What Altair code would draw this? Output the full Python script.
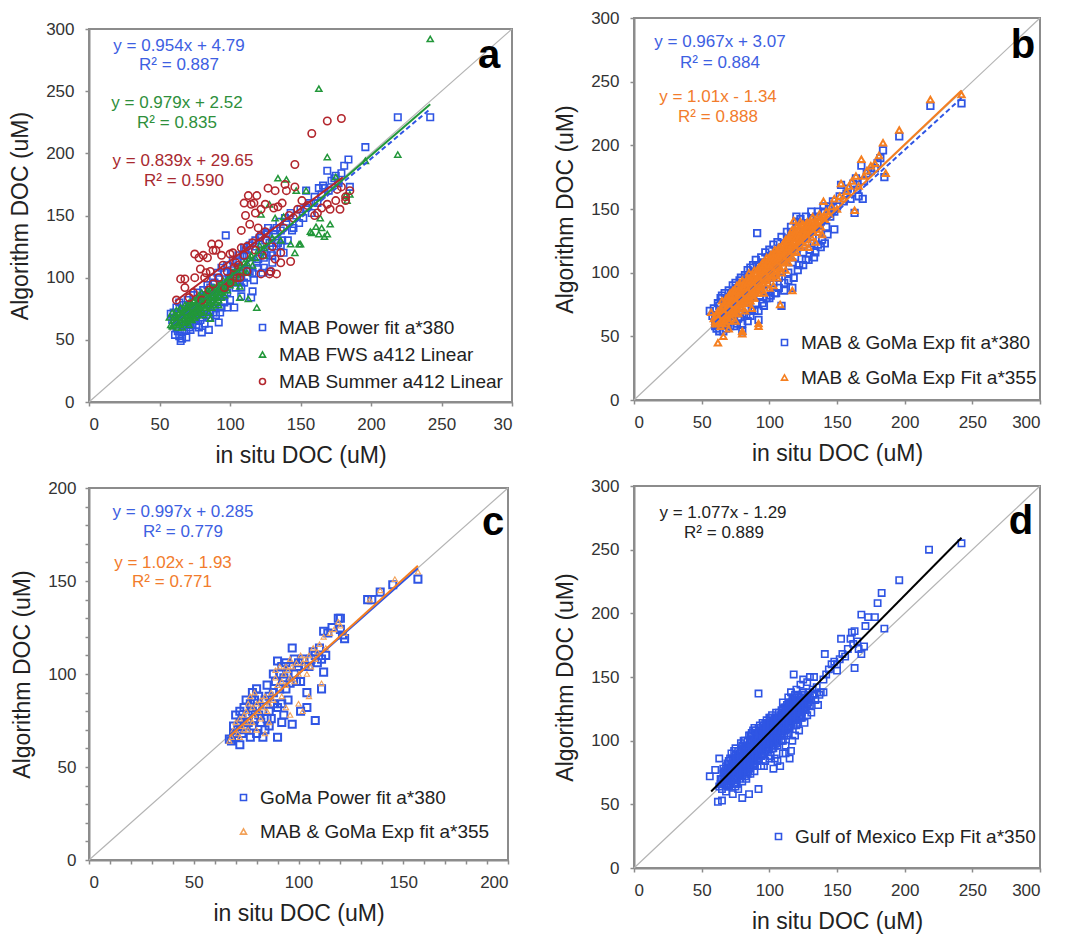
import altair as alt
import pandas as pd

FONT = "Liberation Sans"
AX = "#8c8c8c"
BLUE = "#2f55e4"
GREEN = "#22973a"
RED = "#b3262d"
ORANGE = "#f57f20"
ORANGE_LIGHT = "#f2a25a"
GRAY = "#b4b4b4"

# ---------------- Panel a ----------------
a_blue = [(58,71),(59,66),(60,68),(61,54),(62,60),(63,57),(64,53),(65,49),(66,51),(64,80),(66,75),(67,73),(68,70),(68,62),(69,52),(70,65),(71,60),(72,58),(73,62),(73,76),(75,70),(76,66),(77,72),(78,60),(79,82),(80,56),(80,68),(81,74),(82,63),(83,86),(84,79),(85,58),(85,68),(86,92),(86,74),(87,84),(88,72),(89,96),(90,70),(90,88),(91,80),(92,64),(92,100),(93,86),(94,76),(95,92),(96,80),(96,104),(97,95),(98,76),(98,88),(99,100),(100,98),(101,106),(102,104),(103,76),(104,92),(105,114),(106,108),(107,98),(108,85),(108,100),(109,118),(110,112),(110,96),(111,122),(112,118),(113,106),(114,105),(115,84),(116,89),(116,128),(117,98),(118,125),(119,112),(120,115),(121,132),(122,122),(123,104),(124,108),(125,130),(126,118),(127,140),(128,105),(128,128),(129,120),(130,112),(131,138),(132,135),(133,125),(134,128),(135,145),(136,138),(137,130),(138,120),(139,148),(140,145),(141,130),(143,152),(144,138),(145,140),(147,150),(149,144),(150,155),(152,148),(154,156),(154,170),(156,160),(158,152),(160,165),(162,160),(163,172),(165,167),(166,174),(167,172),(169,186),(170,170),(172,178),(174,180),(175,182),(177,176),(179,184),(181,190),(184,195),(185,173),(196,205),(219,229),(242,229),(97,134)]
a_blue_core = [(60,72),(62,76),(63,70),(66,56),(67,78),(69,58),(70,82),(72,62),(74,86),(76,62),(77,88),(79,66),(81,90),(83,70),(84,94),(86,68),(88,100),(89,76),(91,104),(93,72),(94,108),(96,86),(98,110),(100,82),(102,114),(104,96),(106,118),(108,92),(110,124),(112,100),(114,126),(116,104),(118,130),(120,108),(122,134),(124,116),(126,136),(130,118),(133,140),(136,126)]
a_green = [(57,68),(58,62),(59,61),(59,72),(60,66),(61,70),(62,64),(62,74),(63,68),(63,60),(64,72),(65,66),(65,76),(66,60),(66,70),(67,74),(68,64),(68,78),(69,70),(70,67),(70,74),(71,62),(71,80),(72,70),(72,76),(73,66),(74,72),(74,82),(75,78),(75,68),(76,74),(77,80),(77,70),(78,76),(78,86),(79,72),(80,78),(80,84),(81,70),(82,82),(82,76),(83,88),(84,78),(85,84),(85,72),(86,80),(86,90),(87,76),(88,86),(88,82),(89,92),(90,80),(90,88),(91,84),(92,94),(92,78),(93,88),(94,84),(95,92),(95,98),(96,86),(97,96),(98,90),(99,100),(100,94),(101,98),(102,104),(103,96),(104,102),(105,108),(106,100),(107,84),(108,106),(110,112),(112,104),(113,83),(114,116),(116,110),(119,76),(120,122),(122,151),(124,118),(126,126),(128,159),(130,132),(132,148),(134,180),(136,130),(138,149),(140,179),(143,127),(146,120),(147,170),(149,127),(150,127),(154,170),(157,137),(158,136),(161,141),(163,135),(164,148),(165,140),(167,133),(169,135),(169,197),(171,143),(175,181),(182,166),(183,162),(185,167),(196,194),(219,199),(163,252),(242,292),(86,67),(70,64),(107,93)]
a_green_core = [(60,62),(61,64),(62,68),(63,64),(64,62),(64,68),(65,70),(66,64),(66,72),(67,68),(68,70),(68,74),(69,66),(69,76),(70,70),(70,78),(71,68),(71,74),(72,66),(72,72),(72,80),(73,72),(73,78),(74,68),(74,76),(75,74),(75,82),(76,70),(76,78),(77,74),(77,84),(78,72),(78,80),(79,76),(79,82),(80,74),(80,88),(81,78),(81,84),(82,80),(82,86),(83,76),(83,84),(84,82),(84,90),(85,78),(85,88),(86,84),(87,82),(87,92),(88,78),(88,90),(89,84),(90,92),(90,84),(91,88),(92,82),(92,90),(93,92),(94,88),(94,96),(96,90),(97,92),(98,96),(100,98),(102,98),(104,106),(106,104),(108,110),(110,104),(112,112),(115,118),(118,116),(121,126),(124,124)]
a_red = [(62,82),(65,99),(68,92),(68,99),(71,84),(74,88),(75,100),(75,119),(78,116),(79,107),(80,82),(81,118),(82,100),(83,104),(84,116),(85,90),(86,105),(87,127),(88,95),(88,122),(90,122),(92,127),(92,100),(94,118),(95,110),(96,92),(98,105),(100,119),(100,96),(102,120),(103,108),(104,112),(105,100),(106,110),(107,100),(108,138),(108,124),(110,160),(110,118),(111,150),(112,105),(112,125),(113,166),(114,143),(115,159),(116,128),(117,160),(118,122),(118,152),(119,166),(120,140),(121,133),(122,103),(122,155),(123,118),(125,159),(125,137),(126,130),(127,172),(128,103),(129,105),(130,125),(131,156),(132,115),(132,170),(133,103),(134,157),(136,112),(136,120),(137,160),(138,140),(139,175),(140,170),(142,150),(143,113),(145,148),(146,173),(146,191),(148,155),(151,162),(155,158),(158,216),(160,150),(162,152),(165,156),(169,159),(169,226),(171,155),(175,162),(176,171),(179,173),(179,228),(182,162),(182,165),(185,170),(178,155)]
a_names = ["MAB Power fit a*380", "MAB FWS a412 Linear", "MAB Summer a412 Linear"]
a_slopes = [0.954, 0.979, 0.839]
a_icpts = [4.79, 2.52, 29.65]
a_xrange = [(60, 242), (57, 242), (61, 180)]
a_eqs = ["y = 0.954x + 4.79", "R² = 0.887", "y = 0.979x + 2.52", "R² = 0.835", "y = 0.839x + 29.65", "R² = 0.590"]

# ---------------- Panel b ----------------
b_blue = [(56,70),(58,66),(60,64),(61,56),(62,58),(63,74),(64,80),(65,62),(66,54),(67,68),(68,72),(69,60),(70,78),(71,66),(72,84),(73,70),(74,58),(75,76),(76,88),(77,64),(78,94),(78,72),(79,82),(80,54),(80,68),(81,90),(82,76),(83,86),(84,62),(85,96),(85,80),(86,104),(87,70),(87,90),(88,84),(89,100),(90,76),(90,94),(91,131),(91,88),(92,63),(92,106),(93,82),(94,98),(95,90),(96,108),(96,74),(97,102),(98,86),(99,112),(100,96),(100,80),(101,104),(102,114),(103,92),(104,108),(105,84),(105,100),(106,116),(107,96),(108,110),(109,74),(110,104),(110,120),(111,92),(112,114),(113,126),(114,100),(115,118),(116,130),(117,88),(117,108),(118,124),(119,112),(120,144),(120,132),(121,120),(122,106),(123,128),(124,138),(125,116),(126,130),(127,110),(128,124),(129,136),(130,118),(131,142),(132,128),(133,112),(134,136),(135,144),(136,122),(137,132),(138,140),(139,126),(140,148),(141,123),(142,136),(144,150),(145,144),(147,156),(148,148),(150,152),(152,160),(153,169),(155,156),(157,162),(158,166),(160,158),(162,170),(163,147),(164,174),(165,165),(166,160),(168,184),(169,158),(170,172),(172,178),(175,180),(178,182),(180,186),(182,190),(184,196),(185,175),(196,207),(219,231),(242,233)]
b_blue_edge = [(59,72),(60,58),(62,76),(63,54),(65,82),(66,58),(67,84),(68,56),(70,86),(71,58),(73,90),(74,62),(75,92),(76,60),(79,96),(80,60),(82,98),(83,66),(84,102),(86,66),(88,106),(89,70),(90,110),(92,70),(94,112),(95,76),(97,116),(98,80),(100,118),(101,82),(103,122),(104,84),(106,124),(107,88),(109,128),(111,86),(113,132),(114,94),(116,136),(118,96),(120,140),(121,102),(123,142),(125,106),(127,144),(129,110),(131,148),(134,116),(136,148),(138,120),(140,152),(143,130),(145,152),(148,134)]
b_orange = [(57,69),(59,64),(60,62),(61,60),(62,45),(63,66),(64,72),(64,58),(65,78),(66,64),(66,50),(67,70),(68,60),(68,76),(69,66),(70,72),(70,56),(71,80),(72,64),(72,74),(73,68),(74,78),(74,86),(75,62),(75,72),(76,82),(77,76),(77,68),(78,88),(78,80),(79,72),(80,84),(80,52),(80,76),(81,92),(82,80),(82,70),(83,88),(84,76),(84,96),(85,84),(86,90),(86,78),(87,98),(87,72),(88,86),(88,94),(89,80),(89,102),(90,90),(90,84),(91,96),(92,58),(92,88),(92,104),(93,94),(94,86),(94,100),(95,108),(95,92),(96,98),(96,84),(97,104),(98,94),(98,112),(99,100),(100,106),(100,88),(101,96),(101,114),(102,102),(103,110),(103,90),(104,98),(104,118),(105,106),(106,112),(106,96),(107,104),(107,120),(108,110),(108,75),(109,100),(110,116),(110,108),(111,124),(112,112),(112,102),(113,120),(114,128),(114,108),(115,116),(116,124),(117,112),(117,134),(118,141),(118,120),(119,128),(120,116),(120,136),(121,124),(122,130),(123,120),(123,140),(124,128),(125,134),(126,122),(127,138),(128,130),(129,120),(130,136),(131,128),(132,144),(133,134),(134,124),(135,140),(136,132),(137,146),(138,136),(139,130),(140,156),(141,142),(142,148),(144,146),(146,152),(148,158),(150,150),(152,160),(153,170),(155,158),(157,164),(159,168),(161,172),(163,149),(164,176),(166,168),(168,189),(170,176),(172,180),(175,184),(178,186),(181,192),(184,202),(186,178),(196,212),(219,236),(242,240),(117,86),(92,60),(80,54)]
b_orange_core = [(60,60),(61,66),(62,62),(62,70),(63,60),(63,70),(64,64),(64,68),(65,60),(65,70),(66,68),(66,74),(67,62),(67,66),(67,76),(68,64),(68,70),(68,80),(69,70),(69,74),(69,78),(70,62),(70,68),(70,76),(70,82),(71,70),(71,74),(71,84),(72,68),(72,78),(72,82),(73,74),(73,80),(73,86),(74,70),(74,74),(74,82),(75,68),(75,78),(75,86),(76,72),(76,78),(76,90),(77,72),(77,80),(77,86),(78,76),(78,84),(78,92),(79,76),(79,80),(79,86),(80,72),(80,80),(80,88),(80,94),(81,76),(81,84),(81,88),(82,78),(82,84),(82,92),(83,80),(83,84),(83,94),(84,80),(84,86),(84,92),(85,78),(85,88),(85,94),(85,100),(86,82),(86,86),(86,96),(87,84),(87,88),(87,94),(88,80),(88,90),(88,98),(89,86),(89,92),(89,96),(90,86),(90,94),(90,100),(91,90),(91,92),(91,102),(92,84),(92,92),(92,98),(93,90),(93,98),(93,104),(94,90),(94,96),(94,106),(95,96),(95,100),(95,104),(96,92),(96,102),(96,106),(97,96),(97,100),(97,108),(98,98),(98,104),(98,108),(99,96),(99,104),(99,108),(100,98),(100,102),(100,112),(101,100),(101,106),(101,110),(102,98),(102,108),(102,112),(103,104),(103,106),(103,114),(104,102),(104,106),(104,112),(105,102),(105,110),(105,116),(106,104),(106,108),(106,118),(107,108),(107,112),(107,116),(108,104),(108,114),(108,120),(109,108),(109,112),(109,118),(110,110),(110,112),(110,122),(111,110),(111,116),(111,120),(112,108),(112,116),(112,126),(113,112),(113,118),(113,124),(114,112),(114,120),(114,124),(115,112),(115,120),(115,128),(116,116),(116,120),(116,128),(117,118),(117,122),(117,128),(118,116),(118,124),(118,132),(119,120),(119,124),(119,134),(120,120),(120,128),(120,132),(121,122),(121,130),(121,134),(122,124),(122,128),(122,136),(123,124),(123,130),(124,124),(124,132),(124,138),(125,128),(125,138),(126,126),(126,134),(127,130),(127,134),(128,126),(128,134),(128,140),(129,130),(129,138),(130,132),(130,140),(131,134),(131,138),(132,132),(132,140),(133,138),(134,140),(135,134),(136,138),(137,140),(138,144),(140,144),(142,144)]
b_names = ["MAB & GoMa Exp fit a*380", "MAB & GoMa Exp Fit a*355"]
b_slopes = [0.967, 1.01]
b_icpts = [3.07, -1.34]
b_xrange = [(60, 242), (58, 242)]
b_eqs = ["y = 0.967x + 3.07", "R² = 0.884", "y = 1.01x - 1.34", "R² = 0.888"]

# ---------------- Panel c ----------------
c_blue = [(67,65),(68,64),(69,72),(69,68),(70,78),(70,66),(71,70),(72,62),(72,74),(72,80),(73,68),(73,76),(74,82),(74,72),(75,70),(75,86),(76,78),(76,74),(77,66),(77,84),(78,80),(78,72),(79,76),(79,86),(80,68),(80,82),(81,78),(81,88),(82,74),(83,66),(83,80),(84,86),(85,76),(85,94),(86,80),(86,88),(87,76),(88,84),(88,90),(88,100),(89,96),(90,107),(90,66),(90,82),(91,100),(91,92),(92,74),(92,84),(92,104),(93,98),(93,78),(94,92),(94,106),(95,100),(95,86),(96,104),(96,95),(97,73),(97,114),(98,100),(98,108),(99,96),(100,104),(100,106),(101,80),(101,96),(102,108),(103,104),(104,90),(104,82),(105,104),(106,108),(107,112),(108,75),(108,110),(109,106),(110,114),(111,92),(111,108),(112,101),(112,123),(113,110),(114,122),(116,125),(119,130),(120,130),(120,124),(121,121),(122,119),(133,140),(135,140),(139,144),(145,148),(157,151),(84,70),(86,72),(78,90),(80,92)]
c_orange = [(67,64),(68,66),(69,70),(70,74),(71,68),(72,76),(72,66),(73,72),(74,78),(74,70),(75,80),(75,74),(76,84),(76,70),(77,76),(77,88),(78,82),(78,74),(79,78),(79,90),(80,84),(80,70),(81,80),(82,86),(82,76),(83,82),(84,88),(85,80),(86,84),(87,90),(88,86),(89,98),(89,102),(90,94),(91,104),(92,96),(92,88),(93,100),(94,94),(94,104),(95,102),(96,98),(96,108),(97,104),(98,96),(99,106),(100,100),(101,110),(102,106),(103,108),(104,100),(105,88),(105,110),(106,104),(107,114),(108,108),(109,112),(110,116),(111,95),(112,120),(113,114),(115,122),(117,124),(119,128),(120,126),(122,122),(134,140),(139,145),(146,151),(157,155),(100,84),(102,80),(94,82),(96,78),(86,74),(84,68)]
c_names = ["GoMa Power fit a*380", "MAB & GoMa Exp fit a*355"]
c_slopes = [0.997, 1.02]
c_icpts = [0.285, -1.93]
c_xrange = [(67, 157), (67, 157)]
c_eqs = ["y = 0.997x + 0.285", "R² = 0.779", "y = 1.02x - 1.93", "R² = 0.771"]

# ---------------- Panel d ----------------
d_blue = [(56,72),(60,77),(62,52),(63,86),(64,70),(65,53),(65,62),(66,74),(67,66),(68,80),(68,60),(69,70),(70,84),(70,64),(71,76),(72,68),(72,90),(73,58),(73,80),(74,72),(74,86),(75,64),(75,94),(76,78),(76,70),(77,84),(77,62),(78,90),(78,74),(79,80),(79,98),(80,55),(80,68),(80,86),(81,76),(81,94),(82,82),(82,100),(83,70),(83,88),(84,78),(84,96),(85,58),(85,84),(85,104),(86,74),(86,92),(87,86),(87,100),(88,80),(88,96),(88,108),(89,88),(89,76),(90,100),(90,92),(91,84),(91,106),(92,62),(92,96),(92,137),(92,110),(93,88),(93,102),(94,80),(94,108),(95,96),(95,114),(96,90),(96,104),(97,84),(97,110),(98,98),(98,116),(99,92),(99,106),(100,102),(100,118),(101,88),(101,110),(102,98),(102,120),(103,106),(103,94),(104,114),(104,86),(105,102),(105,122),(106,110),(106,96),(107,118),(107,104),(108,80),(108,112),(109,124),(109,100),(110,90),(110,116),(110,130),(111,108),(111,122),(112,96),(112,114),(113,128),(113,104),(114,120),(114,134),(115,86),(115,110),(115,126),(116,92),(116,118),(116,138),(117,100),(117,130),(118,124),(118,112),(119,136),(119,104),(120,120),(120,140),(121,128),(121,114),(122,134),(122,108),(123,124),(123,144),(124,118),(124,130),(125,138),(125,148),(126,126),(126,114),(127,132),(128,146),(128,120),(129,138),(130,128),(130,150),(131,122),(132,140),(133,150),(134,132),(135,142),(136,128),(137,136),(138,138),(140,138),(140,148),(141,168),(142,152),(144,156),(146,160),(148,162),(150,155),(150,160),(152,164),(153,180),(154,168),(156,166),(158,172),(160,180),(161,185),(162,176),(163,157),(163,186),(165,178),(166,172),(168,168),(168,199),(170,174),(171,190),(173,197),(178,197),(180,208),(183,216),(185,188),(196,226),(218,250),(242,255),(118,152),(100,86),(96,80),(103,78),(106,84),(112,90)]
d_blue_core = [(63,64),(64,66),(65,70),(66,68),(66,78),(67,72),(67,76),(68,66),(68,74),(69,64),(69,78),(69,82),(70,70),(70,76),(71,72),(71,66),(71,86),(72,74),(72,78),(72,82),(73,70),(73,76),(73,86),(74,66),(74,76),(74,80),(74,92),(75,72),(75,78),(75,84),(75,88),(76,74),(76,82),(76,86),(76,66),(77,76),(77,80),(77,88),(77,92),(78,70),(78,78),(78,82),(78,86),(79,74),(79,84),(79,88),(79,92),(80,72),(80,78),(80,82),(80,90),(80,96),(81,80),(81,84),(81,88),(81,100),(82,72),(82,78),(82,86),(82,92),(83,76),(83,82),(83,92),(83,96),(84,74),(84,84),(84,88),(84,100),(85,80),(85,88),(85,92),(85,96),(86,78),(86,84),(86,88),(86,98),(86,104),(87,80),(87,90),(87,94),(87,106),(88,84),(88,88),(88,92),(88,102),(89,82),(89,92),(89,96),(89,100),(89,110),(90,84),(90,88),(90,96),(90,104),(90,108),(91,88),(91,94),(91,98),(91,102),(92,86),(92,92),(92,100),(92,106),(93,92),(93,96),(93,106),(93,112),(94,88),(94,96),(94,100),(94,104),(95,90),(95,100),(95,104),(95,108),(96,94),(96,98),(96,108),(96,112),(97,92),(97,100),(97,104),(97,114),(98,94),(98,102),(98,106),(98,110),(99,98),(99,102),(99,110),(99,114),(100,94),(100,98),(100,106),(100,110),(100,114),(101,100),(101,104),(101,114),(101,118),(102,94),(102,104),(102,108),(102,112),(103,98),(103,102),(103,110),(103,116),(104,96),(104,104),(104,108),(104,118),(105,98),(105,106),(105,110),(105,114),(106,102),(106,106),(106,114),(106,118),(107,100),(107,108),(107,112),(107,122),(108,104),(108,108),(108,116),(108,120),(109,106),(109,112),(109,116),(109,120),(110,100),(110,108),(110,112),(110,120),(110,124),(111,104),(111,112),(111,116),(111,126),(112,108),(112,118),(112,122),(112,126),(113,110),(113,114),(113,118),(113,124),(114,106),(114,112),(114,116),(114,124),(114,128),(115,114),(115,118),(115,122),(115,130),(116,112),(116,122),(116,126),(116,130),(117,116),(117,120),(117,126),(117,134),(118,116),(118,120),(118,128),(118,132),(119,116),(119,122),(119,126),(119,130),(120,112),(120,124),(120,128),(120,132),(121,118),(121,124),(121,132),(122,120),(122,126),(122,130),(123,118),(123,128),(123,134),(124,122),(124,126),(124,136),(125,124),(125,130),(126,130),(126,136),(127,124),(127,128),(128,128),(128,134),(129,130),(130,134),(131,132),(132,136)]
d_names = ["Gulf of Mexico Exp Fit a*350"]
d_slopes = [1.077]
d_icpts = [-1.29]
d_xrange = [(57, 242)]
d_eqs = ["y = 1.077x - 1.29", "R² = 0.889"]

ticks_300 = [0, 50, 100, 150, 200, 250, 300]
ticks_200 = list(range(0, 201, 10))


def pts_df(pts, name):
    return pd.DataFrame({"x": [p[0] for p in pts], "y": [p[1] for p in pts], "series": name})


def axis(title, values, lab_pad, title_pad, expr=None):
    kw = dict(values=values, title=title, grid=False, tickSize=4, tickColor=AX, tickWidth=1.5,
              domainColor=AX, domainWidth=2, labelFont=FONT, labelFontSize=17, labelColor="#333",
              titleFont=FONT, titleFontSize=23, titleFontWeight="normal", titleColor="#222",
              labelPadding=lab_pad, titlePadding=title_pad)
    if expr:
        kw["labelExpr"] = expr
    return alt.Axis(**kw)


def panel(vmax, ticks, width, height, series, fits, eqs, letter, letter_pos, legend_pos,
          row_pad, xexpr=None, yexpr=None, ylab_pad=11):
    xs = alt.Scale(domain=[0, vmax], nice=False)
    ys = alt.Scale(domain=[0, vmax], nice=False)
    xa = axis("in situ DOC (uM)", ticks, 10, 12, xexpr)
    ya = axis("Algorithm DOC (uM)", ticks, ylab_pad, 13, yexpr)
    names = [s["name"] for s in series]
    cscale = alt.Scale(domain=names, range=[s["color"] for s in series])
    sscale = alt.Scale(domain=names, range=[s["shape"] for s in series])
    leg = alt.Legend(title=None, orient="none", legendX=legend_pos[0], legendY=legend_pos[1],
                     labelFont=FONT, labelFontSize=19, labelColor="#222", symbolSize=36,
                     symbolStrokeWidth=1.6, rowPadding=row_pad, labelOffset=7, padding=0,
                     labelLimit=500)

    diag = alt.Chart(pd.DataFrame({"x": [0, vmax], "y": [0, vmax]})).mark_line(
        color=GRAY, strokeWidth=1.2).encode(
        x=alt.X("x:Q", scale=xs, axis=xa), y=alt.Y("y:Q", scale=ys, axis=ya))
    layers = [diag]
    for s in series:
        layers.append(alt.Chart(pts_df(s["pts"], s["name"])).mark_point(
            filled=False, size=s["size"], strokeWidth=s["sw"], opacity=1).encode(
            x=alt.X("x:Q", scale=xs, axis=xa), y=alt.Y("y:Q", scale=ys, axis=ya),
            color=alt.Color("series:N", scale=cscale, legend=leg),
            shape=alt.Shape("series:N", scale=sscale, legend=leg)))
    for f in fits:
        x0, x1 = f["xr"]
        fdf = pd.DataFrame({"x": [x0, x1], "y": [f["m"] * x0 + f["b"], f["m"] * x1 + f["b"]]})
        kw = dict(color=f["color"], strokeWidth=2)
        if f.get("dash"):
            kw["strokeDash"] = f["dash"]
        layers.append(alt.Chart(fdf).mark_line(**kw).encode(
            x=alt.X("x:Q", scale=xs, axis=xa), y=alt.Y("y:Q", scale=ys, axis=ya)))
    for text, color, px, py in eqs:
        layers.append(alt.Chart(pd.DataFrame({"t": [text]})).mark_text(
            font=FONT, fontSize=17, color=color, align="center", baseline="middle").encode(
            text="t:N", x=alt.value(px), y=alt.value(py)))
    layers.append(alt.Chart(pd.DataFrame({"t": [letter]})).mark_text(
        font=FONT, fontSize=40, fontWeight="bold", color="black",
        align="center", baseline="middle").encode(
        text="t:N", x=alt.value(letter_pos[0]), y=alt.value(letter_pos[1])))
    return alt.layer(*layers).properties(width=width, height=height)


BLUE_T = "#3d60e2"
GREEN_T = "#2e8f3b"
RED_T = "#a8292f"
ORANGE_T = "#f27c2c"

pa = panel(300, ticks_300, 423, 373,
           [dict(pts=a_blue + a_blue_core, name=a_names[0], color=BLUE, shape="square", size=42, sw=1.6),
            dict(pts=a_green + a_green_core, name=a_names[1], color=GREEN, shape="triangle-up", size=38, sw=1.5),
            dict(pts=a_red, name=a_names[2], color=RED, shape="circle", size=55, sw=1.6)],
           [dict(m=a_slopes[0], b=a_icpts[0], xr=a_xrange[0], color=BLUE, dash=[5, 3]),
            dict(m=a_slopes[1], b=a_icpts[1], xr=a_xrange[1], color=GREEN),
            dict(m=a_slopes[2], b=a_icpts[2], xr=a_xrange[2], color=RED)],
           [(a_eqs[0], BLUE_T, 90, 17), (a_eqs[1], BLUE_T, 90, 36),
            (a_eqs[2], GREEN_T, 88, 74), (a_eqs[3], GREEN_T, 88, 94),
            (a_eqs[4], RED_T, 94, 132), (a_eqs[5], RED_T, 95, 152)],
           "a", (400, 27), (164, 289), 7,
           xexpr="datum.value == 300 ? '30' : datum.label")

pb = panel(300, ticks_300, 406, 382,
           [dict(pts=b_blue + b_blue_edge, name=b_names[0], color=BLUE, shape="square", size=42, sw=1.8),
            dict(pts=b_orange + b_orange_core, name=b_names[1], color=ORANGE, shape="triangle-up", size=40, sw=2.0)],
           [dict(m=b_slopes[0], b=b_icpts[0], xr=b_xrange[0], color=BLUE, dash=[5, 3]),
            dict(m=b_slopes[1], b=b_icpts[1], xr=b_xrange[1], color=ORANGE)],
           [(b_eqs[0], BLUE_T, 86, 24), (b_eqs[1], BLUE_T, 86, 45),
            (b_eqs[2], ORANGE_T, 84, 79), (b_eqs[3], ORANGE_T, 84, 99)],
           "b", (389, 28), (141, 315), 15)

pc = panel(200, ticks_200, 419, 372,
           [dict(pts=c_blue, name=c_names[0], color=BLUE, shape="square", size=50, sw=2),
            dict(pts=c_orange, name=c_names[1], color=ORANGE_LIGHT, shape="triangle-up", size=28, sw=1.1)],
           [dict(m=c_slopes[0], b=c_icpts[0], xr=c_xrange[0], color=BLUE),
            dict(m=c_slopes[1], b=c_icpts[1], xr=c_xrange[1], color=ORANGE)],
           [(c_eqs[0], BLUE_T, 94, 24), (c_eqs[1], BLUE_T, 94, 44),
            (c_eqs[2], ORANGE_T, 84, 75), (c_eqs[3], ORANGE_T, 83, 94)],
           "c", (404, 35), (145, 300), 14,
           xexpr="datum.value % 50 == 0 ? datum.label : ''",
           yexpr="datum.value % 50 == 0 ? datum.label : ''", ylab_pad=9)

pd_ = panel(300, ticks_300, 406, 382,
            [dict(pts=d_blue + d_blue_core, name=d_names[0], color=BLUE, shape="square", size=40, sw=1.6)],
            [dict(m=d_slopes[0], b=d_icpts[0], xr=d_xrange[0], color="black")],
            [(d_eqs[0], "#222", 89, 27), (d_eqs[1], "#222", 90, 47)],
            "d", (387, 36), (135, 341), 10)

# tiny empty view above panel a: it lowers panel a relative to panel b, as in the figure
gap_a = alt.Chart(pd.DataFrame({"t": [""]})).mark_text(fontSize=1).encode(
    text="t:N", x=alt.value(0), y=alt.value(0)).properties(
    width=10, height=1, view=alt.ViewBackground(strokeOpacity=0))

IND = dict(color="independent", shape="independent")
top_a = alt.vconcat(gap_a, pa, spacing=0).resolve_scale(**IND)
col1 = alt.vconcat(top_a, pc, spacing=10).resolve_scale(**IND)
col2 = alt.vconcat(pb, pd_, spacing=10).resolve_scale(**IND)
chart = alt.hconcat(col1, col2, spacing=37).resolve_scale(**IND).configure_view(
    stroke=AX, strokeWidth=2).properties(
    background="white", padding={"left": 0, "top": 0, "right": 2, "bottom": 0})

chart.save("out.html", embed_options={"renderer": "svg", "actions": False})
